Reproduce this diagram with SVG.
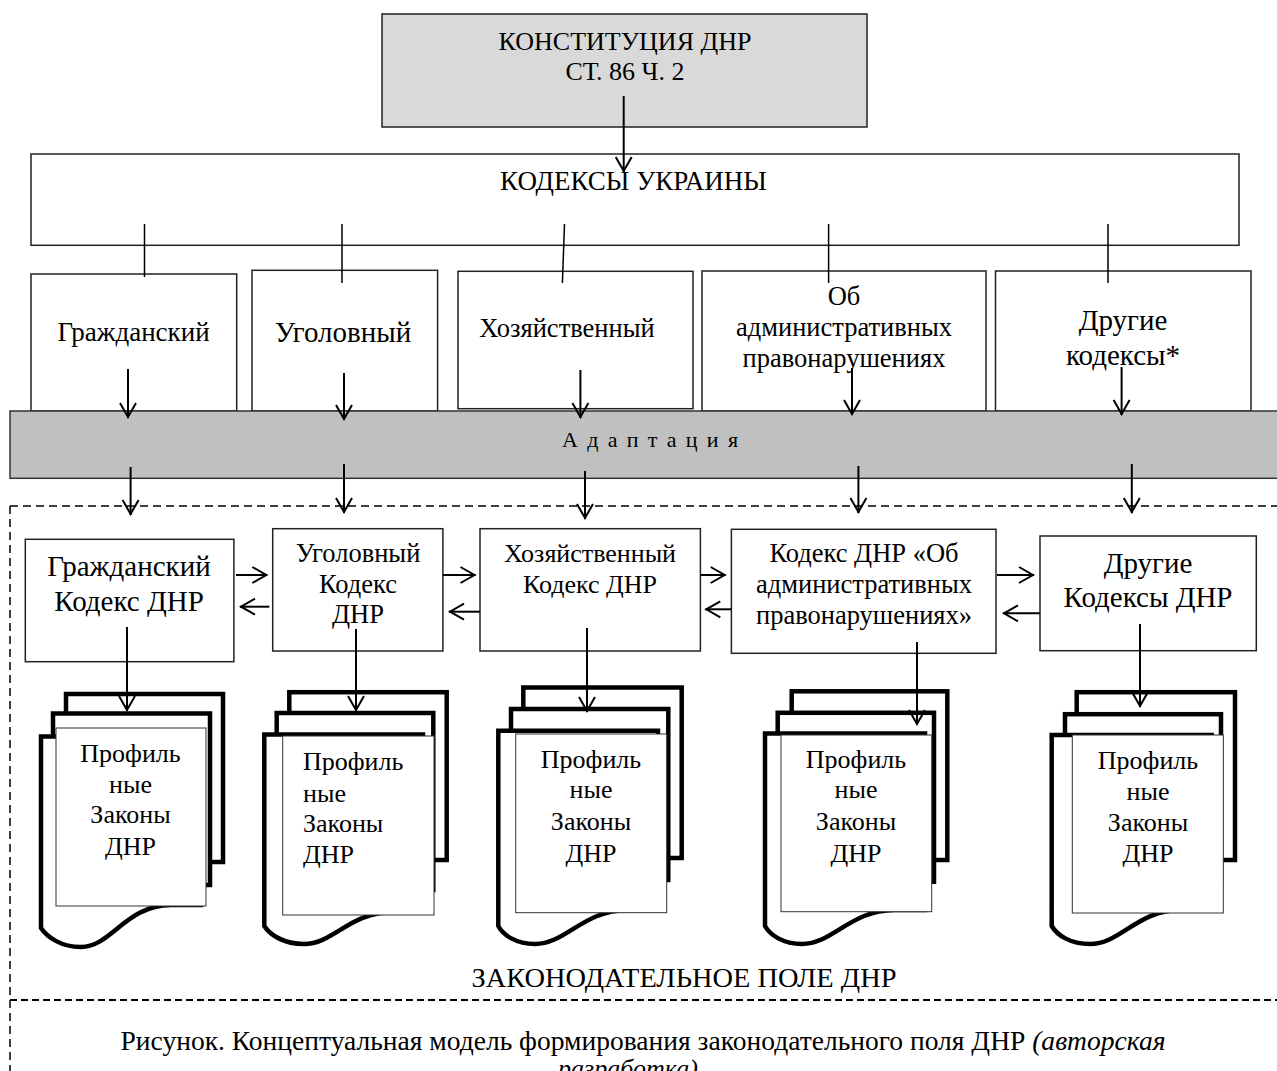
<svg xmlns="http://www.w3.org/2000/svg" width="1277" height="1071" viewBox="0 0 1277 1071">
  <style>
    text { font-family: "Liberation Serif", "Times New Roman", serif; fill: #000; }
    .box { fill: #fff; stroke: #222; stroke-width: 1.5; }
    .lt { fill: #d9d9d9; stroke: #222; stroke-width: 1.5; }
    .band { fill: #c0c0c0; stroke: #333; stroke-width: 1.5; }
    .pg { fill: #fff; stroke: #000; stroke-width: 4.5; stroke-linejoin: miter; }
    .tb { fill: #fff; stroke: #333; stroke-width: 1; }
    .tick { stroke: #000; stroke-width: 1.5; }
    .arr { stroke: #000; stroke-width: 2; fill: none; marker-end: url(#ah); }
    .dash { stroke: #000; stroke-width: 1.5; stroke-dasharray: 8 5; fill: none; }
    .dash2 { stroke: #000; stroke-width: 2; stroke-dasharray: 7 4; fill: none; }
    .c { text-anchor: middle; }
  </style>
  <defs>
    <marker id="ah" viewBox="-17 -10 19 20" refX="0" refY="0" markerWidth="19" markerHeight="20" markerUnits="userSpaceOnUse" orient="auto">
      <path d="M-15,-8 L-1,0 L-15,8" fill="none" stroke="#000" stroke-width="2"/>
    </marker>
  </defs>

  <!-- frame of the legislative field -->
  <g id="field-frame">
    <path class="dash" d="M10,506 H1277 M10,506 V1071"/>
    <path class="dash2" d="M10,1000 H1277"/>
  </g>

  <g id="constitution">
    <rect class="lt" x="382" y="14" width="485" height="113"/>
    <text class="c" x="625" y="50" font-size="26">КОНСТИТУЦИЯ ДНР</text>
    <text class="c" x="625" y="80" font-size="26">СТ. 86 Ч. 2</text>
  </g>

  <g id="codes-ukraine">
    <rect class="box" x="31" y="154" width="1208" height="91.3"/>
    <text class="c" x="633.5" y="190" font-size="27">КОДЕКСЫ УКРАИНЫ</text>
  </g>

  <g id="ua-civil">
    <rect class="box" x="31" y="274" width="205.7" height="137"/>
    <text class="c" x="133.5" y="340.7" font-size="27">Гражданский</text>
  </g>
  <g id="ua-criminal">
    <rect class="box" x="252" y="270.3" width="185.6" height="140.7"/>
    <text class="c" x="343" y="341.7" font-size="29">Уголовный</text>
  </g>
  <g id="ua-economic">
    <rect class="box" x="458" y="271.3" width="235" height="137.4"/>
    <text class="c" x="567" y="336.7" font-size="26.5">Хозяйственный</text>
  </g>
  <g id="ua-admin">
    <rect class="box" x="702" y="271" width="284" height="140"/>
    <text class="c" x="844" y="305" font-size="26.5">Об</text>
    <text class="c" x="844" y="336" font-size="26.5">административных</text>
    <text class="c" x="844" y="367" font-size="26.5">правонарушениях</text>
  </g>
  <g id="ua-other">
    <rect class="box" x="995.5" y="271" width="255.5" height="140"/>
    <text class="c" x="1123" y="330" font-size="29">Другие</text>
    <text class="c" x="1123" y="365" font-size="29">кодексы*</text>
  </g>

  <g id="ticks">
    <line class="tick" x1="144.5" y1="224" x2="144.5" y2="277"/>
    <line class="tick" x1="342" y1="224" x2="342" y2="283"/>
    <line class="tick" x1="564.5" y1="224" x2="562.4" y2="283"/>
    <line class="tick" x1="828.6" y1="224" x2="828.6" y2="283"/>
    <line class="tick" x1="1108" y1="224" x2="1108" y2="283"/>
  </g>

  <g id="adaptation">
    <rect class="band" x="10" y="411" width="1270" height="67.3"/>
    <text class="c" x="650" y="446.7" font-size="22" textLength="176" lengthAdjust="spacing">А д а п т а ц и я</text>
  </g>

  <g id="dnr-civil">
    <rect class="box" x="25.3" y="539.3" width="208.6" height="122.4"/>
    <text class="c" x="129" y="576" font-size="29">Гражданский</text>
    <text class="c" x="129" y="610.7" font-size="29">Кодекс ДНР</text>
  </g>
  <g id="dnr-criminal">
    <rect class="box" x="272.7" y="528.7" width="170.2" height="122.3"/>
    <text class="c" x="358" y="562.3" font-size="26.5">Уголовный</text>
    <text class="c" x="358" y="593.3" font-size="26.5">Кодекс</text>
    <text class="c" x="358" y="623.3" font-size="26.5">ДНР</text>
  </g>
  <g id="dnr-economic">
    <rect class="box" x="480" y="528.7" width="220.4" height="122.3"/>
    <text class="c" x="590" y="562.3" font-size="26">Хозяйственный</text>
    <text class="c" x="590" y="593.3" font-size="26">Кодекс ДНР</text>
  </g>
  <g id="dnr-admin">
    <rect class="box" x="731.4" y="529.3" width="264.6" height="124"/>
    <text class="c" x="864" y="562.3" font-size="26.5">Кодекс ДНР «Об</text>
    <text class="c" x="864" y="593.3" font-size="26.5">административных</text>
    <text class="c" x="864" y="624" font-size="26.5">правонарушениях»</text>
  </g>
  <g id="dnr-other">
    <rect class="box" x="1040" y="536" width="216.3" height="114.7"/>
    <text class="c" x="1148" y="572.7" font-size="29">Другие</text>
    <text class="c" x="1148" y="606.7" font-size="29">Кодексы ДНР</text>
  </g>

  <!-- stacks of profile laws -->
  <g id="laws-civil">
    <rect class="pg" x="66" y="694" width="157" height="168"/>
    <rect class="pg" x="53" y="713.5" width="157" height="171.5"/>
    <path class="pg" d="M41,928 V736.5 H201 V905 H171 C126,905 111,947 81,947 C61,947 47,937 41,928 Z"/>
    <rect class="tb" x="56" y="728" width="150" height="178"/>
    <text class="c" x="130.5" y="761.7" font-size="26">Профиль</text>
    <text class="c" x="130.5" y="792.7" font-size="26">ные</text>
    <text class="c" x="130.5" y="823.3" font-size="26">Законы</text>
    <text class="c" x="130.5" y="855" font-size="26">ДНР</text>
  </g>
  <g id="laws-criminal">
    <rect class="pg" x="289.3" y="692.2" width="157.4" height="167.8"/>
    <rect class="pg" x="276.7" y="713" width="156.6" height="177"/>
    <path class="pg" d="M264.3,926 V734.5 H423 V912 H394 C349,912 334,944 304,944 C284,944 270,935 264.3,926 Z"/>
    <rect class="tb" x="282.7" y="736" width="151.3" height="179"/>
    <text x="303" y="770" font-size="26">Профиль</text>
    <text x="303" y="801.7" font-size="26">ные</text>
    <text x="303" y="831.7" font-size="26">Законы</text>
    <text x="303" y="863.3" font-size="26">ДНР</text>
  </g>
  <g id="laws-economic">
    <rect class="pg" x="523.3" y="687.5" width="158.4" height="170.5"/>
    <rect class="pg" x="511" y="709" width="157.3" height="171"/>
    <path class="pg" d="M498.3,926 V730.8 H658 V910 H628 C583,910 566,944 535,944 C516,944 503,935 498.3,926 Z"/>
    <rect class="tb" x="515.7" y="734" width="151" height="178.7"/>
    <text class="c" x="591" y="768.3" font-size="26">Профиль</text>
    <text class="c" x="591" y="798.3" font-size="26">ные</text>
    <text class="c" x="591" y="830" font-size="26">Законы</text>
    <text class="c" x="591" y="861.7" font-size="26">ДНР</text>
  </g>
  <g id="laws-admin">
    <rect class="pg" x="791.7" y="691.3" width="155.6" height="168.7"/>
    <rect class="pg" x="777.7" y="712.8" width="156.3" height="168.9"/>
    <path class="pg" d="M765,926 V733.5 H925 V910 H895 C850,910 833,944 802,944 C783,944 770,935 765,926 Z"/>
    <rect class="tb" x="781" y="735" width="150.7" height="176.7"/>
    <text class="c" x="856" y="768.3" font-size="26">Профиль</text>
    <text class="c" x="856" y="798.3" font-size="26">ные</text>
    <text class="c" x="856" y="830" font-size="26">Законы</text>
    <text class="c" x="856" y="861.7" font-size="26">ДНР</text>
  </g>
  <g id="laws-other">
    <rect class="pg" x="1076.7" y="692.2" width="158.3" height="167.8"/>
    <rect class="pg" x="1065" y="714.2" width="156" height="167.8"/>
    <path class="pg" d="M1051.7,926 V735 H1211.7 V910 H1181 C1137,910 1121,944 1090,944 C1070,944 1057,935 1051.7,926 Z"/>
    <rect class="tb" x="1072.3" y="735" width="151" height="178"/>
    <text class="c" x="1148" y="769.3" font-size="26">Профиль</text>
    <text class="c" x="1148" y="800" font-size="26">ные</text>
    <text class="c" x="1148" y="830.7" font-size="26">Законы</text>
    <text class="c" x="1148" y="861.7" font-size="26">ДНР</text>
  </g>

  <g id="connectors">
    <line class="arr" x1="623.7" y1="96" x2="623.7" y2="172"/>

    <line class="arr" x1="128" y1="369" x2="128" y2="418"/>
    <line class="arr" x1="344" y1="373" x2="344" y2="420"/>
    <line class="arr" x1="580.4" y1="370" x2="580.4" y2="418"/>
    <line class="arr" x1="852" y1="368" x2="852" y2="415"/>
    <line class="arr" x1="1121.6" y1="367" x2="1121.6" y2="415"/>

    <line class="arr" x1="130.6" y1="467" x2="130.6" y2="515"/>
    <line class="arr" x1="344" y1="464" x2="344" y2="513"/>
    <line class="arr" x1="585" y1="471" x2="585" y2="519"/>
    <line class="arr" x1="858.4" y1="466" x2="858.4" y2="513"/>
    <line class="arr" x1="1131.8" y1="464" x2="1131.8" y2="513"/>

    <line class="arr" x1="236" y1="575" x2="267.3" y2="575"/>
    <line class="arr" x1="269.4" y1="606.7" x2="240" y2="606.7"/>
    <line class="arr" x1="442.9" y1="575" x2="475.5" y2="575"/>
    <line class="arr" x1="480" y1="611.7" x2="449" y2="611.7"/>
    <line class="arr" x1="700.4" y1="575" x2="725.7" y2="575"/>
    <line class="arr" x1="731.4" y1="609.3" x2="705.3" y2="609.3"/>
    <line class="arr" x1="997" y1="575" x2="1034" y2="575"/>
    <line class="arr" x1="1040" y1="613.3" x2="1003" y2="613.3"/>

    <line class="arr" x1="127" y1="627" x2="127" y2="711"/>
    <line class="arr" x1="356" y1="629" x2="356" y2="711"/>
    <line class="arr" x1="587" y1="628" x2="587" y2="712"/>
    <line class="arr" x1="917" y1="642" x2="917" y2="725"/>
    <line class="arr" x1="1140" y1="624" x2="1140" y2="707"/>
  </g>

  <g id="captions">
    <text class="c" x="684" y="986.7" font-size="27" textLength="425" lengthAdjust="spacingAndGlyphs">ЗАКОНОДАТЕЛЬНОЕ ПОЛЕ ДНР</text>
    <text class="c" x="643" y="1050" font-size="26.5" textLength="1045" lengthAdjust="spacingAndGlyphs">Рисунок. Концептуальная модель формирования законодательного поля ДНР <tspan font-style="italic">(авторская</tspan></text>
    <text class="c" x="628" y="1077" font-size="26" font-style="italic">разработка)</text>
  </g>
</svg>
